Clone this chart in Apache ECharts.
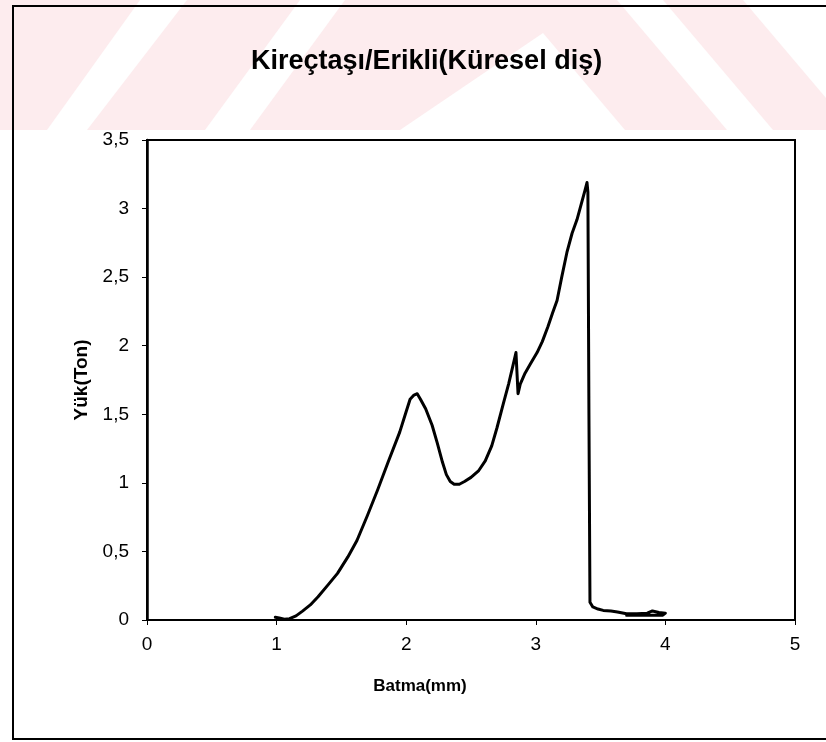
<!DOCTYPE html>
<html>
<head>
<meta charset="utf-8">
<script src="https://cdn.jsdelivr.net/npm/echarts@6/dist/echarts.min.js"></script>
<style>
html,body{margin:0;padding:0;background:#fff;}
#chart{width:826px;height:742px;}
</style>
</head>
<body>
<div id="chart"></div>
<script>
// Batma (mm) values
var batma = [0.99, 1.02, 1.06, 1.10, 1.15, 1.20, 1.26, 1.32, 1.40, 1.47, 1.55, 1.62, 1.70, 1.78, 1.86, 1.95, 2.00, 2.03, 2.06, 2.085, 2.11, 2.15, 2.20, 2.24, 2.28, 2.31, 2.34, 2.37, 2.41, 2.45, 2.50, 2.56, 2.61, 2.66, 2.70, 2.75, 2.79, 2.82, 2.847, 2.863, 2.88, 2.917, 2.96, 3.01, 3.05, 3.094, 3.13, 3.164, 3.20, 3.24, 3.28, 3.318, 3.35, 3.38, 3.395, 3.402, 3.41, 3.418, 3.44, 3.48, 3.52, 3.58, 3.63, 3.70, 3.78, 3.86, 3.90, 3.95, 4.00, 3.98, 3.70];
// Yük (Ton) values
var yuk = [0.02, 0.015, 0.005, 0.01, 0.03, 0.065, 0.11, 0.17, 0.26, 0.34, 0.46, 0.58, 0.76, 0.95, 1.15, 1.37, 1.52, 1.61, 1.64, 1.65, 1.61, 1.54, 1.42, 1.29, 1.15, 1.06, 1.01, 0.99, 0.99, 1.01, 1.04, 1.09, 1.16, 1.27, 1.40, 1.58, 1.72, 1.84, 1.95, 1.65, 1.72, 1.80, 1.87, 1.95, 2.03, 2.14, 2.24, 2.33, 2.50, 2.68, 2.82, 2.92, 3.03, 3.135, 3.19, 3.12, 1.50, 0.13, 0.095, 0.08, 0.07, 0.065, 0.058, 0.045, 0.045, 0.05, 0.066, 0.055, 0.05, 0.035, 0.035];
var xTicks = [0, 1, 2, 3, 4, 5];
var yTicks = [0, 0.5, 1, 1.5, 2, 2.5, 3, 3.5];
var titleText = 'Kireçtaşı/Erikli(Küresel diş)';
var xName = 'Batma(mm)';
var yName = 'Yük(Ton)';

var points = batma.map(function (x, i) { return [x, yuk[i]]; });
var FONT = '"Liberation Sans", Arial, sans-serif';
var pink = '#fdecee';

var chart = echarts.init(document.getElementById('chart'), null, {renderer: 'canvas'});
chart.setOption({
  backgroundColor: '#fff',
  animation: false,
  graphic: {
    elements: [
      {type: 'rect', z: -10, shape: {x: 0, y: 0, width: 826, height: 130}, style: {fill: pink}},
      {type: 'polygon', z: -9, shape: {points: [[47,130],[87,130],[187,0],[140,0]]}, style: {fill: '#fff'}},
      {type: 'polygon', z: -9, shape: {points: [[205,130],[250,130],[345,0],[300,0]]}, style: {fill: '#fff'}},
      {type: 'polygon', z: -9, shape: {points: [[400,130],[543,33],[625,130]]}, style: {fill: '#fff'}},
      {type: 'polygon', z: -9, shape: {points: [[617,0],[663,0],[773,130],[727,130]]}, style: {fill: '#fff'}},
      {type: 'polygon', z: -9, shape: {points: [[743,0],[826,0],[826,98]]}, style: {fill: '#fff'}},
      {type: 'rect', z: -5, shape: {x: 13, y: 6, width: 830, height: 733}, style: {fill: 'none', stroke: '#000', lineWidth: 2}}
    ]
  },
  title: {
    text: titleText,
    left: 246,
    top: 43,
    textStyle: {fontFamily: FONT, fontSize: 27, fontWeight: 'bold', color: '#000'}
  },
  grid: {
    left: 147, top: 140, right: 31, bottom: 122,
    show: true, borderColor: '#000', borderWidth: 2, backgroundColor: 'transparent'
  },
  xAxis: {
    type: 'value', min: 0, max: 5, interval: 1,
    name: xName, nameLocation: 'middle', nameGap: 58,
    nameTextStyle: {fontFamily: FONT, fontSize: 17, fontWeight: 'bold', color: '#000', padding: [0, 102, 0, 0]},
    axisLine: {show: true, onZero: false, lineStyle: {color: '#000', width: 2}},
    axisTick: {show: true, inside: false, length: 5, lineStyle: {color: '#000', width: 1}},
    axisLabel: {fontFamily: FONT, fontSize: 19, color: '#000', margin: 15,
      formatter: function (v) { return xTicks.indexOf(v) >= 0 ? String(v) : ''; }},
    splitLine: {show: false}
  },
  yAxis: {
    type: 'value', min: 0, max: 3.5, interval: 0.5,
    name: yName, nameLocation: 'middle', nameGap: 30, nameRotate: 90,
    nameTextStyle: {fontFamily: FONT, fontSize: 19, fontWeight: 'bold', color: '#000'},
    axisLine: {show: true, onZero: false, lineStyle: {color: '#000', width: 2.5}},
    axisTick: {show: true, inside: false, length: 5, lineStyle: {color: '#000', width: 1}},
    axisLabel: {fontFamily: FONT, fontSize: 19, color: '#000', margin: 18,
      formatter: function (v) { return yTicks.indexOf(v) >= 0 ? String(v).replace('.', ',') : ''; }},
    splitLine: {show: false}
  },
  series: [{
    type: 'line',
    data: points,
    showSymbol: false,
    smooth: false,
    lineStyle: {color: '#000', width: 3, join: 'round', cap: 'round'},
    z: 5
  }]
});
</script>
</body>
</html>
